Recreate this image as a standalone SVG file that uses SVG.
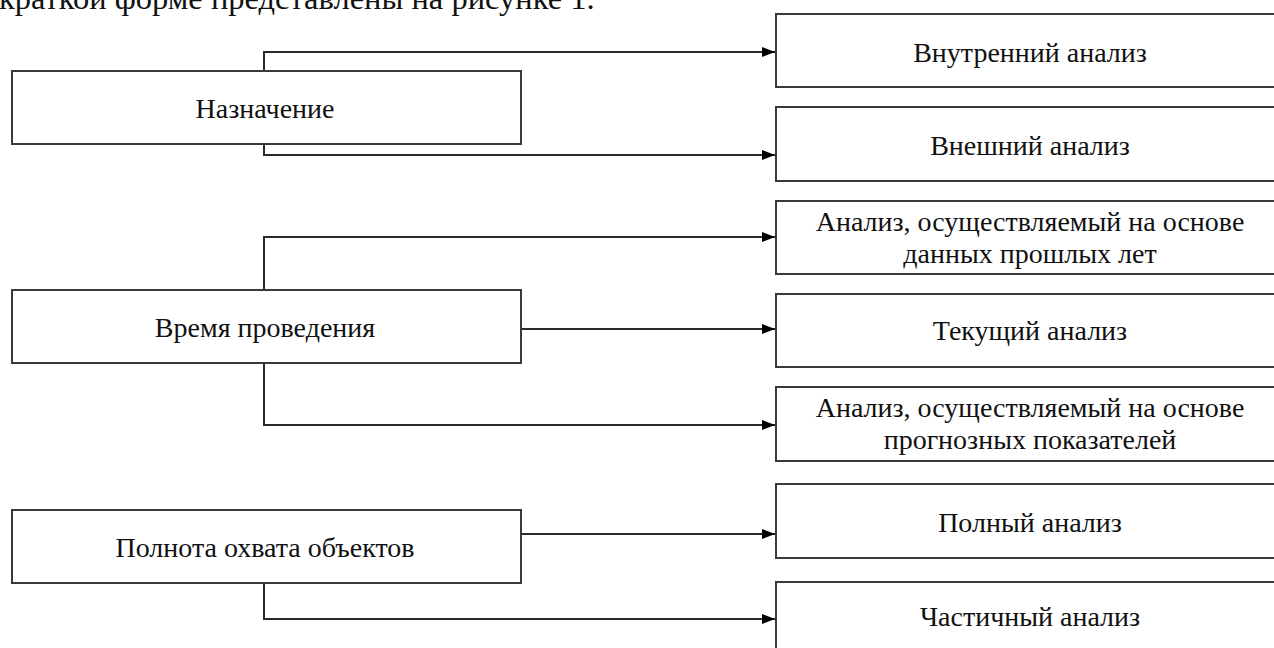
<svg xmlns="http://www.w3.org/2000/svg" width="1274" height="648" viewBox="0 0 1274 648">
  <style>
    .box { fill: #ffffff; stroke: #3a3a3a; stroke-width: 2; }
    .lbl { font-family: "Liberation Serif", "Times New Roman", serif; font-size: 28px; fill: #111111; text-anchor: middle; }
    .top { font-family: "Liberation Serif", "Times New Roman", serif; font-size: 32.5px; fill: #111111; }
    .con { fill: none; stroke: #2a2a2a; stroke-width: 2; marker-end: url(#arr); }
  </style>
  <defs>
    <marker id="arr" markerUnits="userSpaceOnUse" markerWidth="14" markerHeight="11" refX="13" refY="5" orient="auto">
      <path d="M0,0 L13,5 L0,10 Z" fill="#000000"/>
    </marker>
  </defs>
  <rect width="1274" height="648" fill="#ffffff"/>
  <text class="top" x="-1" y="9">краткой форме представлены на рисунке 1.</text>

  <g id="connectors">
    <path class="con" d="M264,71 V52 H775"/>
    <path class="con" d="M264,144 V155 H775"/>
    <path class="con" d="M264,290 V237 H775"/>
    <path class="con" d="M521,329 H775"/>
    <path class="con" d="M264,363 V425 H775"/>
    <path class="con" d="M521,534 H775"/>
    <path class="con" d="M264,583 V619 H775"/>
  </g>

  <g id="n-naznachenie">
    <rect class="box" x="12" y="71" width="509" height="73"/>
    <text class="lbl" x="265" y="118">Назначение</text>
  </g>
  <g id="n-vremya">
    <rect class="box" x="12" y="290" width="509" height="73"/>
    <text class="lbl" x="265" y="337">Время проведения</text>
  </g>
  <g id="n-polnota">
    <rect class="box" x="12" y="510" width="509" height="73"/>
    <text class="lbl" x="265" y="557">Полнота охвата объектов</text>
  </g>

  <g id="n-vnutr">
    <rect class="box" x="776" y="14" width="509" height="73"/>
    <text class="lbl" x="1030" y="62">Внутренний анализ</text>
  </g>
  <g id="n-vnesh">
    <rect class="box" x="776" y="107" width="509" height="74"/>
    <text class="lbl" x="1030" y="155">Внешний анализ</text>
  </g>
  <g id="n-proshlye">
    <rect class="box" x="776" y="201" width="509" height="73"/>
    <text class="lbl" x="1030" y="231">Анализ, осуществляемый на основе</text>
    <text class="lbl" x="1030" y="263">данных прошлых лет</text>
  </g>
  <g id="n-tekushiy">
    <rect class="box" x="776" y="294" width="509" height="73"/>
    <text class="lbl" x="1030" y="340">Текущий анализ</text>
  </g>
  <g id="n-prognoz">
    <rect class="box" x="776" y="387" width="509" height="74"/>
    <text class="lbl" x="1030" y="417">Анализ, осуществляемый на основе</text>
    <text class="lbl" x="1030" y="449">прогнозных показателей</text>
  </g>
  <g id="n-polniy">
    <rect class="box" x="776" y="484" width="509" height="74"/>
    <text class="lbl" x="1030" y="532">Полный анализ</text>
  </g>
  <g id="n-chastichniy">
    <rect class="box" x="776" y="582" width="509" height="80"/>
    <text class="lbl" x="1030" y="626">Частичный анализ</text>
  </g>
</svg>
